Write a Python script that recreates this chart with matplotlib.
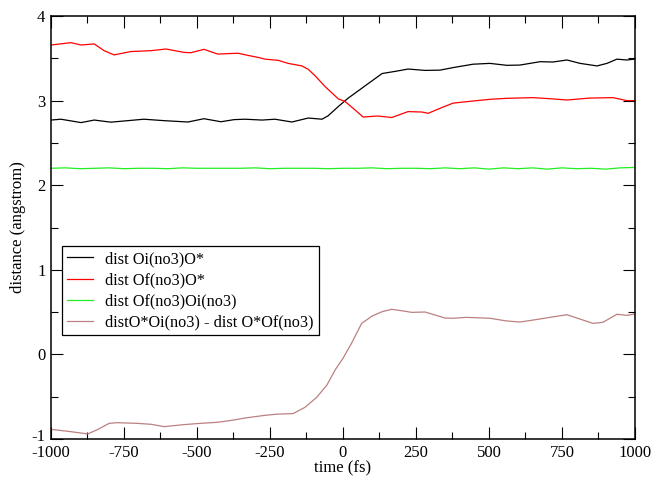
import matplotlib
matplotlib.use("Agg")
import matplotlib.pyplot as plt
import matplotlib.transforms as mtransforms

## values (time in fs, distance in angstrom)
black_t = [-1000, -966, -897, -852, -795, -737, -682, -613, -531, -476, -418, -373, -336,
           -277, -233, -175, -119, -72, -51, -16, 17, 64, 100, 134, 178, 223, 281, 332,
           377, 445, 503, 561, 606, 675, 719, 767, 812, 870, 904, 938, 972, 1000]
black_v = [2.77, 2.78, 2.74, 2.77, 2.745, 2.763, 2.78, 2.763, 2.747, 2.786, 2.75, 2.775, 2.78,
           2.77, 2.78, 2.747, 2.794, 2.78, 2.82, 2.93, 3.027, 3.145, 3.235, 3.32, 3.345, 3.373, 3.357, 3.36,
           3.39, 3.43, 3.44, 3.417, 3.42, 3.46, 3.456, 3.48, 3.44, 3.41, 3.44, 3.49, 3.48, 3.49]

red_t = [-1000, -932, -897, -852, -818, -784, -726, -658, -606, -545, -521, -476, -429,
         -360, -315, -290, -267, -222, -188, -141, -119, -96, -61, -16, 7, 41, 69, 120,
         167, 223, 270, 292, 340, 377, 445, 503, 561, 651, 719, 767, 846, 925, 972, 1000]
red_v = [3.657, 3.685, 3.657, 3.67, 3.59, 3.54, 3.58, 3.59, 3.61, 3.57, 3.566, 3.606, 3.55,
         3.56, 3.527, 3.51, 3.49, 3.476, 3.44, 3.41, 3.37, 3.295, 3.165, 3.02, 2.99, 2.89, 2.806, 2.818,
         2.80, 2.87, 2.865, 2.85, 2.92, 2.97, 2.995, 3.015, 3.027, 3.035, 3.02, 3.007, 3.03, 3.035, 3.0, 3.0]

green_t = [-1000, -950, -900, -850, -800, -750, -700, -650, -600, -550, -500, -450, -400,
           -350, -300, -250, -200, -150, -100, -50, 0, 50, 100, 150, 200, 250, 300, 350,
           400, 450, 500, 550, 600, 650, 700, 750, 800, 850, 900, 950, 1000]
green_v = [2.20, 2.205, 2.195, 2.20, 2.205, 2.195, 2.20, 2.20, 2.195, 2.205, 2.20, 2.20, 2.20,
           2.20, 2.205, 2.195, 2.20, 2.20, 2.20, 2.195, 2.20, 2.20, 2.205, 2.195, 2.20, 2.20, 2.195, 2.205,
           2.195, 2.205, 2.19, 2.205, 2.195, 2.205, 2.19, 2.205, 2.195, 2.20, 2.19, 2.205, 2.21]

brown_t = [-1000, -942, -874, -839, -801, -773, -705, -658, -612, -545, -488, -431, -373,
           -336, -267, -222, -171, -130, -90, -55, -27, 0, 29, 64, 100, 134, 167, 213, 235,
           281, 315, 349, 377, 423, 503, 561, 606, 651, 709, 767, 822, 856, 890, 938, 972, 1000]
brown_v = [-0.886, -0.909, -0.94, -0.886, -0.815, -0.807, -0.815, -0.826, -0.854, -0.83, -0.815, -0.803, -0.775,
           -0.752, -0.72, -0.705, -0.70, -0.625, -0.507, -0.362, -0.184, -0.046, 0.13, 0.367, 0.454, 0.505, 0.533, 0.51, 0.497,
           0.501, 0.466, 0.43, 0.427, 0.438, 0.427, 0.395, 0.383, 0.406, 0.438, 0.469, 0.406, 0.367, 0.379, 0.474, 0.462, 0.477]

labels = ["dist Oi(no3)O*", "dist Of(no3)O*", "dist Of(no3)Oi(no3)",
          "distO*Oi(no3) - dist O*Of(no3)"]
x_ticks = [-1000, -750, -500, -250, 0, 250, 500, 750, 1000]
y_ticks = [-1, 0, 1, 2, 3, 4]

plt.rcParams["font.family"] = ["Liberation Serif", "DejaVu Serif"]
plt.rcParams["font.size"] = 12
plt.rcParams["axes.unicode_minus"] = False

fig = plt.figure(figsize=(6.53, 4.79), dpi=100)
ax = fig.add_axes([0.0781, 0.0835, 0.8943, 0.8831])

ax.plot(black_t, black_v, color="black", lw=0.9, label=labels[0])
ax.plot(red_t, red_v, color="#ff0000", lw=0.9, label=labels[1])
ax.plot(green_t, green_v, color="#22ee22", lw=0.9, label=labels[2])
ax.plot(brown_t, brown_v, color="#bc8080", lw=0.9, label=labels[3])

ax.set_xlim(-1000, 1000)
ax.set_ylim(-1, 4)
ax.set_xticks(x_ticks)
ax.set_yticks(y_ticks)
ax.set_xticks([-875, -625, -375, -125, 125, 375, 625, 875], minor=True)
ax.set_yticks([-0.5, 0.5, 1.5, 2.5, 3.5], minor=True)
ax.tick_params(which="both", direction="in", top=True, right=True, width=0.8)
ax.tick_params(which="major", length=8.8, pad=4)
ax.tick_params(which="minor", length=5)
for sp in ax.spines.values():
    sp.set_linewidth(1.1)

ax.set_xlabel("time (fs)", labelpad=0)
ax.set_ylabel("distance (angstrom)", labelpad=4)

leg = ax.legend(loc="upper left", bbox_to_anchor=(0.019, 0.456), borderaxespad=0,
                frameon=True, fancybox=False, edgecolor="black", framealpha=1,
                fontsize=11.7, handlelength=1.6, handletextpad=0.75,
                borderpad=0.3, labelspacing=0.32)
leg.get_frame().set_linewidth(0.9)

# nudge the -1 label up a little so it clears -1000
fig.canvas.draw()
lab = ax.get_yticklabels()[0]
lab.set_transform(lab.get_transform() + mtransforms.ScaledTranslation(0, 3 / 72, fig.dpi_scale_trans))

fig.savefig("out.png", dpi=100)
